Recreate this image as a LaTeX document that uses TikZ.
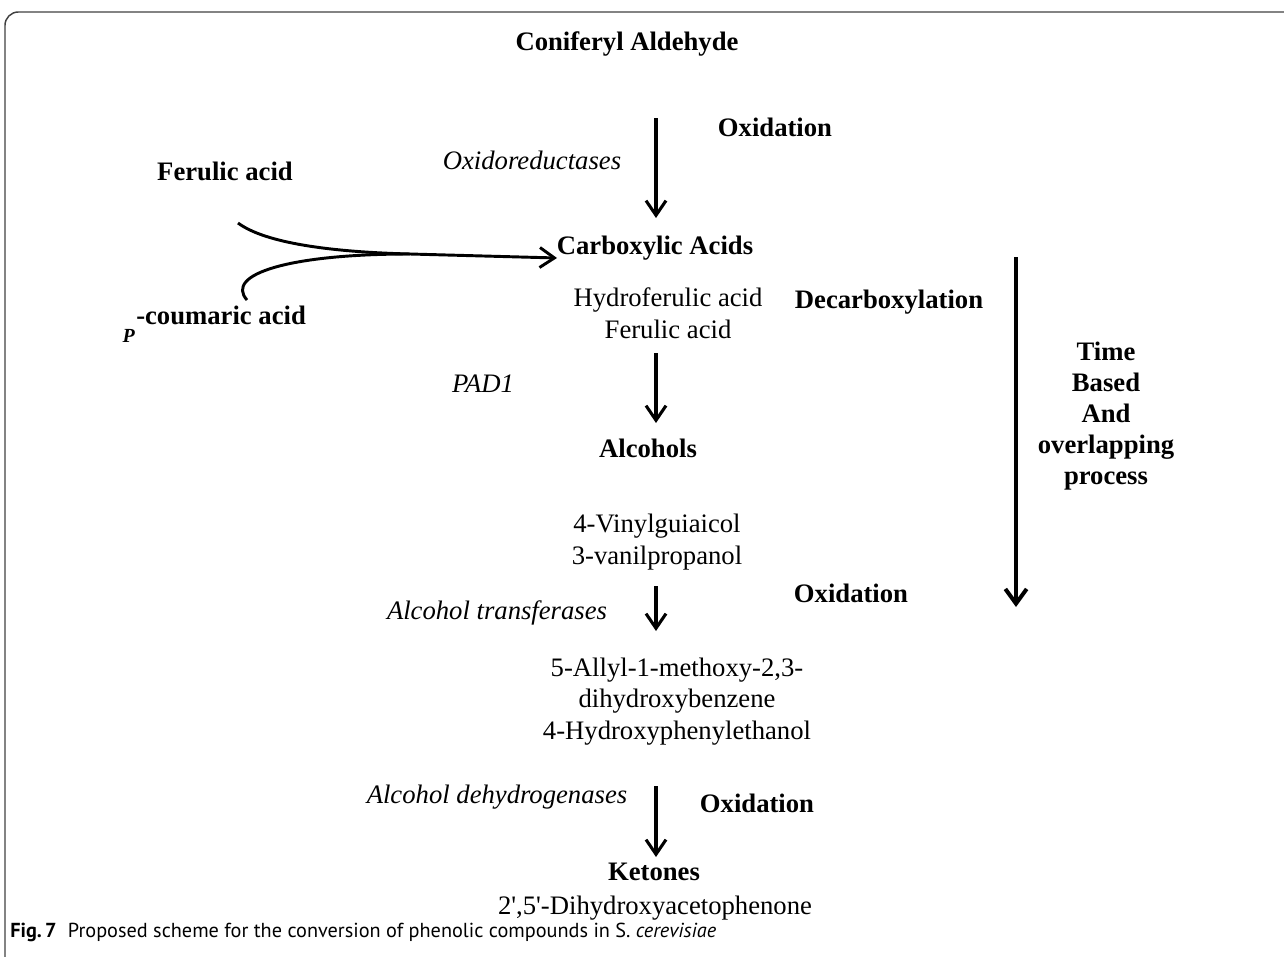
\documentclass[tikz,border=0pt]{standalone}
\usepackage{fontspec}
\setmainfont{Liberation Serif}[Ligatures=TeXOff]
\newfontfamily\capfont{PT Sans}
\usetikzlibrary{arrows.meta}
\begin{document}
\begin{tikzpicture}[x=0.75pt,y=-0.75pt,
  txt/.style={inner sep=0pt, anchor=base, font=\fontsize{20}{24}\selectfont},
  bt/.style={txt, font=\fontsize{20}{24}\selectfont\bfseries},
  itx/.style={txt, font=\fontsize{20}{24}\selectfont\itshape},
  flow/.style={line width=2.3pt, -{Straight Barb[length=11pt,width=15pt]}},
  bigflow/.style={line width=3pt, -{Straight Barb[length=11pt,width=16pt]}},
  curve/.style={line width=2.2pt},
  frame/.style={line width=1.1pt, black!75, rounded corners=10}]
\useasboundingbox (0,0) rectangle (1284,956);
% frame
\coordinate (fb) at (5,970);
\coordinate (fc) at (5,12);
\coordinate (fr) at (1300,12);
\draw[frame] (fb) -- (fc) -- (fr);

% texts
\node[bt] (cald) at (627,51) {Coniferyl Aldehyde};
\node[bt] (ox1) at (775,136) {Oxidation};
\node[itx] (oxr) at (532,169) {Oxidoreductases};
\node[bt] (fer) at (225,180) {Ferulic acid};
\node[bt] (carb) at (655,254) {Carboxylic Acids};
\node[txt] (hfa) at (668,306) {Hydroferulic acid};
\node[txt] (fa) at (668,338) {Ferulic acid};
\node[bt] (decarb) at (889,308) {Decarboxylation};
\node[bt, anchor=base west] (cum) at (136,324) {-coumaric acid};
\node[inner sep=0pt, anchor=base east, font=\fontsize{15}{16}\selectfont\bfseries\itshape] (pp) at (135,342) {P};
\node[itx] (pad) at (483,392) {PAD1};
\node[bt] (alc) at (648,457) {Alcohols};
\node[bt, align=center, font=\fontsize{20}{23.25}\selectfont\bfseries] (tb) at (1106,484) {Time\\Based\\And\\overlapping\\process};
\node[txt] (vg) at (657,532) {4-Vinylguiaicol};
\node[txt] (vp) at (657,564) {3-vanilpropanol};
\node[bt] (ox2) at (851,602) {Oxidation};
\node[itx] (atr) at (497,619) {Alcohol transferases};
\node[txt, align=center, font=\fontsize{20}{23.5}\selectfont] (amd) at (677,739) {5-Allyl-1-methoxy-2,3-\\dihydroxybenzene\\4-Hydroxyphenylethanol};
\node[itx] (adh) at (497,803) {Alcohol dehydrogenases};
\node[bt] (ox3) at (757,812) {Oxidation};
\node[bt] (ket) at (654,880) {Ketones};
\node[txt] (dha) at (655,914) {2',5'-Dihydroxyacetophenone};
\node[inner sep=0pt, anchor=base west, font=\capfont\fontsize{15.2}{18}\selectfont] (cap) at (10,937) {\textbf{Fig.\,7}\hspace{0.55em}Proposed scheme for the conversion of phenolic compounds in S.~\textit{cerevisiae}};

% vertical arrows
\coordinate (a1s) at (656,118); \coordinate (a1e) at (656,218);
\coordinate (a2s) at (656,353); \coordinate (a2e) at (656,423);
\coordinate (a3s) at (656,586); \coordinate (a3e) at (656,631);
\coordinate (a4s) at (656,786); \coordinate (a4e) at (656,857);
\draw[flow] (a1s) -- (a1e);
\draw[flow] (a2s) -- (a2e);
\draw[flow] (a3s) -- (a3e);
\draw[flow] (a4s) -- (a4e);

% big time arrow
\coordinate (bs) at (1016,257); \coordinate (be) at (1016,607);
\draw[bigflow] (bs) -- (be);

% merging curves
\coordinate (fs) at (238,223);
\coordinate (cs) at (247,300);
\coordinate (jn) at (410,254);
\coordinate (tip) at (557,258);
\draw[curve, flow, line width=2.2pt] (fs) .. controls (265,243) and (330,252) .. (jn) -- (tip);
\draw[curve] (cs) .. controls (224,274) and (290,254) .. (jn);
\end{tikzpicture}
\end{document}
